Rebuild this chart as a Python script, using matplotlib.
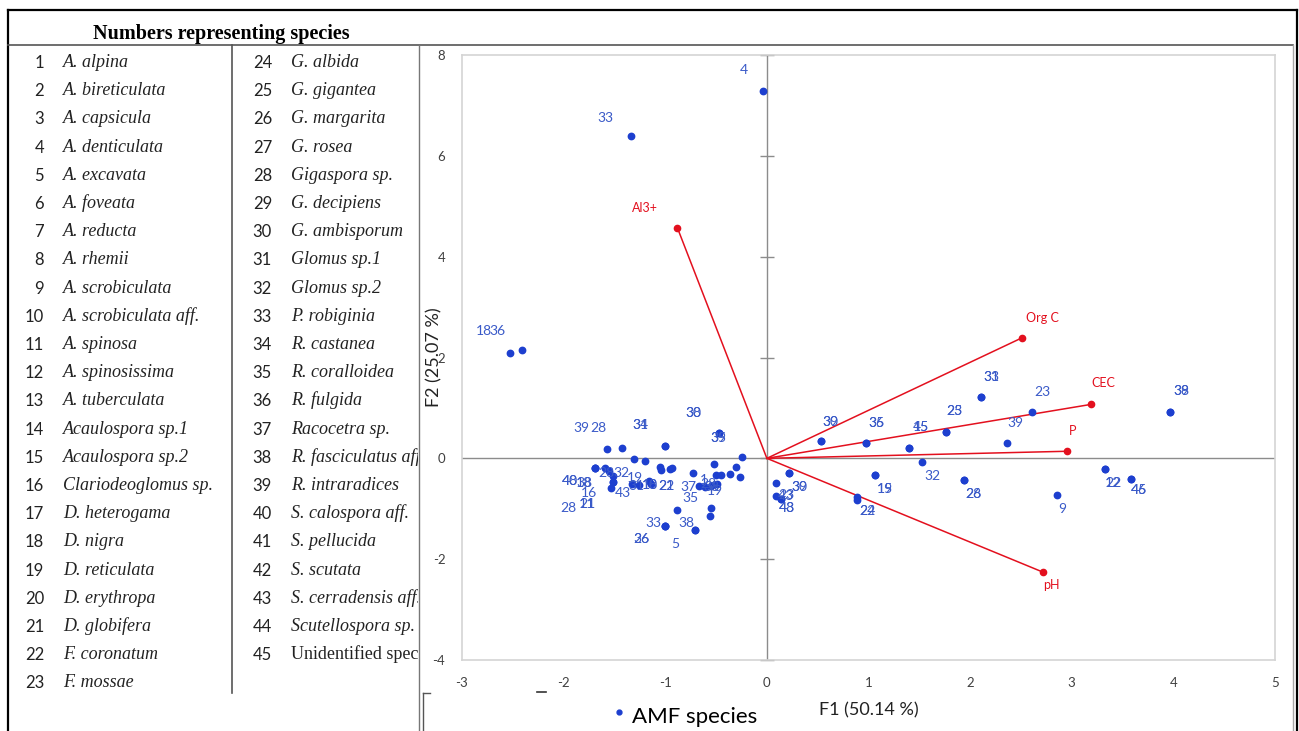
import numpy as np
import matplotlib
matplotlib.use('Agg')
import matplotlib.pyplot as plt
from matplotlib.lines import Line2D
from matplotlib.patches import Rectangle

plt.rcParams['axes.unicode_minus'] = False

# species names for the number table
species_names = [
    "A. alpina", "A. bireticulata", "A. capsicula", "A. denticulata", "A. excavata",
    "A. foveata", "A. reducta", "A. rhemii", "A. scrobiculata", "A. scrobiculata aff.",
    "A. spinosa", "A. spinosissima", "A. tuberculata", "Acaulospora sp.1", "Acaulospora sp.2",
    "Clariodeoglomus sp.", "D. heterogama", "D. nigra", "D. reticulata", "D. erythropa",
    "D. globifera", "F. coronatum", "F. mossae", "G. albida", "G. gigantea",
    "G. margarita", "G. rosea", "Gigaspora sp.", "G. decipiens", "G. ambisporum",
    "Glomus sp.1", "Glomus sp.2", "P. robiginia", "R. castanea", "R. coralloidea",
    "R. fulgida", "Racocetra sp.", "R. fasciculatus aff.", "R. intraradices", "S. calospora aff.",
    "S. pellucida", "S. scutata", "S. cerradensis aff.", "Scutellospora sp.", "Unidentified species",
]

# PCA scores of the AMF species (F1, F2) and their number labels
f1 = [-0.04, -1.34, -2.53, -2.41, -1.57, -1.43, -1.31, -1.20, -1.00, -1.00,
      -1.69, -1.69, -1.69, -1.59, -1.55, -1.51, -1.51, -1.51, -1.53, -1.33,
      -1.26, -1.16, -1.14, -1.05, -1.04, -0.95, -0.93, -0.73, -0.52, -0.50,
      -0.45, -0.36, -0.30, -0.26, -0.24, -0.47, -0.47, -0.67, -0.61, -0.55,
      -0.49, -0.88, -1.00, -1.00, -1.00, -0.71, -0.71, -0.55, -0.56, 0.09,
      0.22, 0.22, 0.09, 0.14, 0.14, 0.53, 0.53, 0.98, 0.98, 1.40,
      1.40, 1.53, 1.76, 1.76, 2.11, 2.11, 2.36, 2.61, 1.94, 1.94,
      1.06, 1.06, 0.89, 0.89, 2.85, 3.33, 3.33, 3.58, 3.58, 3.97, 3.97]
f2 = [7.29, 6.40, 2.08, 2.14, 0.18, 0.20, -0.02, -0.06, 0.24, 0.24,
      -0.20, -0.20, -0.20, -0.20, -0.26, -0.36, -0.46, -0.46, -0.59, -0.50,
      -0.53, -0.44, -0.50, -0.18, -0.24, -0.22, -0.20, -0.30, -0.12, -0.34,
      -0.34, -0.32, -0.18, -0.38, 0.02, 0.50, 0.50, -0.55, -0.57, -0.55,
      -0.51, -1.03, -1.35, -1.35, -1.35, -1.43, -1.43, -0.99, -1.15, -0.48,
      -0.30, -0.30, -0.75, -0.81, -0.81, 0.34, 0.34, 0.30, 0.30, 0.20,
      0.20, -0.08, 0.53, 0.53, 1.21, 1.21, 0.30, 0.91, -0.42, -0.42,
      -0.34, -0.34, -0.77, -0.83, -0.73, -0.22, -0.22, -0.40, -0.40, 0.91, 0.91]
point_labels = ["4", "33", "18", "36", "39", "28", "34", "31", "38", "30",
                "48", "40", "28", "38", "18", "16", "11", "21", "43", "28",
                "32", "19", "31", "18", "10", "22", "21", "37", "", "",
                "", "", "", "", "", "39", "35", "28", "38", "19",
                "1", "35", "33", "26", "36", "38", "5", "", "", "43",
                "39", "30", "23", "48", "43", "39", "30", "36", "35", "45",
                "15", "32", "23", "25", "33", "31", "39", "23", "26", "28",
                "19", "15", "22", "24", "9", "12", "22", "45", "46", "39", "38"]

# label placement (pixels from the point, x right / y up)
label_dx = [-19, -25, -26, -25, -26, -23, 7, -4, 28, 28,
            -25, -25, -27, -21, -25, -24, -26, -26, 11, -25,
            -17, -14, -15, -10, -11, -4, -6, -4, 0, 0,
            0, 0, 0, 0, 0, -1, -1, 10, 6, 4,
            -13, 13, -12, -24, -24, -8, -19, 0, 0, 10,
            10, 10, 10, 6, 6, 10, 10, 10, 10, 12,
            12, 10, 9, 9, 10, 10, 9, 10, 9, 9,
            10, 10, 10, 10, 6, 8, 8, 8, 8, 11, 11]
label_dy = [21, 18, 22, 19, 21, 20, 34, 36, 33, 33,
            -13, -13, -40, -15, -12, -17, -22, -22, -5, 11,
            12, 3, -2, -18, -15, -17, -18, -14, 0, 0,
            0, 0, 0, 0, 0, -5, -5, 2, 0, -5,
            4, 12, 3, -13, -13, 7, -14, 0, 0, -13,
            -14, -14, 1, -9, -9, 19, 19, 20, 20, 21,
            21, -14, 21, 21, 20, 20, 20, 20, -14, -14,
            -14, -14, -14, -11, -14, -14, -14, -12, -12, 21, 21]

# soil variables (loadings)
var_names = ["Al3+", "Org C", "CEC", "P", "pH"]
var_f1 = [-0.88, 2.51, 3.19, 2.95, 2.72]
var_f2 = [4.57, 2.39, 1.07, 0.14, -2.26]
var_dx = [-33, 20, 12, 6, 8]
var_dy = [20, 20, 21, 20, -13]

W, H = 1299, 731
BLUE = '#1d3fcf'
LBLUE = '#3a5ac8'
RED = '#e3101e'
GRID = '#8c8c8c'
SANS = ['Lato', 'DejaVu Sans']
SERIF = ['Liberation Serif', 'DejaVu Serif']

fig = plt.figure(figsize=(W / 100, H / 100), dpi=100)


def fx(x):
    return x / W


def fy(y):
    return 1 - y / H


def seg(x0, y0, x1, y1, **kw):
    fig.add_artist(Line2D([fx(x0), fx(x1)], [fy(y0), fy(y1)],
                          transform=fig.transFigure, **kw))


# frame and table rules
seg(8, 10, 1297, 10, color='black', lw=1.6)
seg(8, 10, 8, 731, color='black', lw=1.6)
seg(1297, 10, 1297, 731, color='black', lw=1.6)
seg(8, 45, 1293, 45, color='#555555', lw=1.2)
seg(232, 45, 232, 693, color='#555555', lw=1.2)
seg(419, 45, 419, 731, color='#777777', lw=1.0)
seg(1293, 45, 1293, 731, color='#a6a6a6', lw=1.0)
seg(423, 693, 423, 731, color='#555555', lw=1.0)
seg(423, 693, 430, 693, color='#555555', lw=1.0)
seg(537, 692, 546, 692, color='#333333', lw=1.2)

fig.text(fx(221), fy(34), "Numbers representing species", ha='center', va='center',
         family=SERIF, weight='bold', fontsize=14.5)

clip = Rectangle((0, 0), fx(418), 1, transform=fig.transFigure, visible=False)
fig.add_artist(clip)
for i, name in enumerate(species_names):
    col = 0 if i < 23 else 1
    row = i if i < 23 else i - 23
    base = 68 + 28.2 * row
    nx = 44 if col == 0 else 272
    tx = 63 if col == 0 else 291
    fig.text(fx(nx), fy(base), str(i + 1), ha='right', va='baseline',
             family=SANS, fontsize=12, color='#222222')
    style = 'normal' if name.startswith('Unidentified') else 'italic'
    t = fig.text(fx(tx), fy(base - 1), name, ha='left', va='baseline',
                 family=SERIF, style=style, fontsize=13, color='#222222')
    t.set_clip_path(clip)

# biplot
ax = fig.add_axes([fx(462), fy(660), (1275 - 462) / W, (660 - 55) / H])
ax.set_xlim(-3, 5)
ax.set_ylim(-4, 8)
ax.set_xticks(range(-3, 6))
yt = list(range(-4, 9, 2))
ax.set_yticks(yt)
ax.tick_params(length=0, labelsize=9.5, labelcolor='#404040', pad=12)
for lab in ax.get_xticklabels() + ax.get_yticklabels():
    lab.set_family(SANS)
for s in ax.spines.values():
    s.set_color('#d4d4d4')
    s.set_linewidth(1.2)

ax.axhline(0, color=GRID, lw=1.0, zorder=1)
ax.axvline(0, color=GRID, lw=1.0, zorder=1)
ax.plot(np.zeros(len(yt)), yt, ls='none', marker='_', ms=10, mew=1.0,
        color=GRID, zorder=1, clip_on=False)

for vx, vy, name, dx, dy in zip(var_f1, var_f2, var_names, var_dx, var_dy):
    ax.plot([0, vx], [0, vy], color=RED, lw=1.1, zorder=2)
    ax.plot(vx, vy, 'o', ms=4.5, color=RED, zorder=3)
    ax.annotate(name, (vx, vy), xytext=(dx, dy), textcoords='offset pixels',
                ha='center', va='center', fontsize=9, color=RED, family=SANS)

ax.plot(f1, f2, 'o', ms=4.6, color=BLUE, ls='none', zorder=4)
for x, y, t, dx, dy in zip(f1, f2, point_labels, label_dx, label_dy):
    if t:
        ax.annotate(t, (x, y), xytext=(dx, dy), textcoords='offset pixels',
                    ha='center', va='center', fontsize=10, color=LBLUE,
                    family=SANS, zorder=5)

fig.text(fx(869), fy(710), "F1 (50.14 %)", ha='center', va='center',
         family=SANS, fontsize=13, color='#222222')
fig.text(fx(434), fy(357), "F2 (25.07 %)", ha='center', va='center', rotation=90,
         family=SANS, fontsize=13, color='#222222')

# legend
fig.add_artist(Line2D([fx(619)], [fy(712)], marker='o', ms=3.5, color=BLUE,
                      transform=fig.transFigure))
fig.text(fx(632), fy(717), "AMF species", ha='left', va='center',
         family=SANS, fontsize=16, color='black')

fig.savefig('out.png', dpi=100)
